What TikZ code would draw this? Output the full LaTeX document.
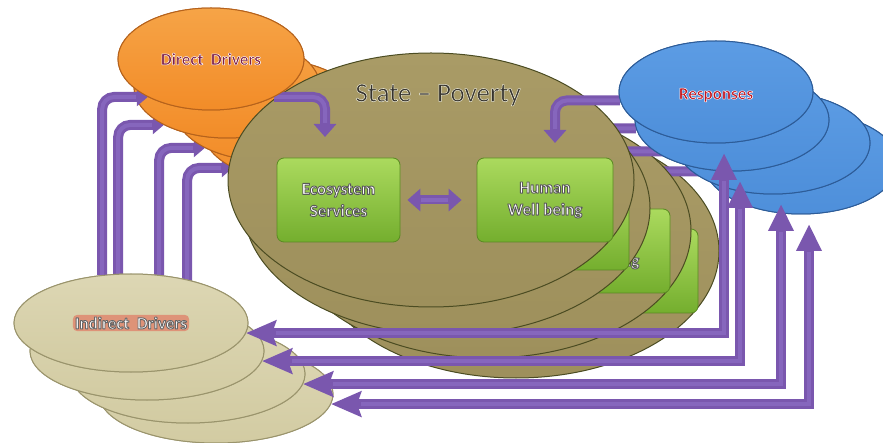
\documentclass[tikz,border=0pt]{standalone}
\usepackage{fontspec}
\setmainfont{Carlito}
\usetikzlibrary{shapes.geometric,arrows.meta}

\definecolor{drvorange}{HTML}{F28C28}
\definecolor{drvorangetop}{HTML}{F6A447}
\definecolor{drvorangedark}{HTML}{B5621C}
\definecolor{stateolive}{HTML}{9E905C}
\definecolor{stateolivetop}{HTML}{A99B66}
\definecolor{stateolivedark}{HTML}{4B4C22}
\definecolor{boxgreentop}{HTML}{ABDA5E}
\definecolor{boxgreenbot}{HTML}{74AE2E}
\definecolor{boxgreenedge}{HTML}{5A8A22}
\definecolor{respblue}{HTML}{4E8FDA}
\definecolor{respbluetop}{HTML}{5C9CE4}
\definecolor{respbluedark}{HTML}{2D5C98}
\definecolor{indbeige}{HTML}{D2CBA2}
\definecolor{indbeigetop}{HTML}{DDD7B4}
\definecolor{indbeigedark}{HTML}{9A946C}
\definecolor{linkpurple}{HTML}{7A57AE}
\definecolor{linkglint}{HTML}{8666BD}
\definecolor{textred}{rgb}{0.76,0.07,0.11}
\definecolor{textplum}{rgb}{0.50,0.12,0.27}
\definecolor{titlegrey}{rgb}{0.21,0.20,0.18}
\definecolor{labelglow}{HTML}{DE9378}

% letters filled in one colour and stroked round in another
% #1 fill as "r g b", #2 stroke as "r g b", #3 stroke width, #4 fill colour name, #5 words
\newcommand\outlined[5]{{\color{#4}%
  \special{pdf:literal 2 Tr #3 w 1 j #1 rg #2 RG}#5\special{pdf:literal 0 Tr}}}

\tikzset{
  oval/.style={ellipse, inner sep=0pt, line width=1pt},
  driveroval/.style={oval, minimum width=186pt, minimum height=102pt,
    top color=drvorangetop, bottom color=drvorange, draw=drvorangedark},
  stateoval/.style={oval, minimum width=406pt, minimum height=254pt,
    top color=stateolivetop, bottom color=stateolive, draw=stateolivedark},
  respoval/.style={oval, minimum width=194pt, minimum height=102pt,
    top color=respbluetop, bottom color=respblue, draw=respbluedark},
  indoval/.style={oval, minimum width=234pt, minimum height=98pt,
    top color=indbeigetop, bottom color=indbeige, draw=indbeigedark},
  svcbox/.style={rectangle, rounded corners=7pt, minimum height=84pt,
    top color=boxgreentop, bottom color=boxgreenbot, draw=boxgreenedge,
    line width=0.8pt},
  svctext/.style={align=center, font=\fontsize{17}{22}\selectfont\bfseries},
  link/.style={line width=10pt, draw=linkpurple, rounded corners=12pt},
  glint/.style={line width=4pt, draw=linkglint, rounded corners=12pt},
  smalltip/.tip={Triangle[width=18pt,length=11pt]},
  midtip/.tip={Triangle[width=22pt,length=13pt]},
  uptip/.tip={Triangle[width=24pt,length=27pt]},
  backtip/.tip={Stealth[width=25pt,length=30pt,inset=4pt]},
}

\newcommand\whiteword[1]{\outlined{1 1 1}{0.35 0.35 0.35}{0.9}{white}{#1}}
\newcommand\wellbeing{\whiteword{Human}\\\whiteword{Well being}}

\begin{document}
\begin{tikzpicture}[x=1pt,y=-1pt]
\useasboundingbox (0,0) rectangle (883,443);

% four copies of the whole scheme, stacked from the back to the front
\foreach \i/\dx/\dy in {4/85/71,3/57/51,2/16/28,1/0/0}{
\begin{scope}[shift={(\dx,\dy)}]
  % state of ecosystems and people
  \node[stateoval] (state\i) at (431,180) {};
  \node[svcbox, minimum width=123pt] (eco\i) at (338.5,200) {};
  \node[svcbox, minimum width=136pt] (hum\i) at (545,200) {};
  \ifnum\i=3
    \node[svctext] (humtext\i) at (hum\i) {\wellbeing};
  \fi

  \coordinate (dtip\i) at (325,137);
  \coordinate (rtip\i) at (555,143);
  \coordinate (rup\i) at (724,153);

  \node[driveroval] (dir\i) at (211,59) {};
  \node[respoval] (resp\i) at (716,92) {};
  \node[indoval] (ind\i) at (131,323) {};

  % links
  \draw[link, -smalltip] (ind\i.121) |- (dir\i.211);
  \draw[glint, shorten >=12pt] (ind\i.121) |- (dir\i.211);

  \draw[link, -midtip] (dir\i.329) -| (dtip\i);
  \draw[glint, shorten >=14pt] (dir\i.329) -| (dtip\i);

  \draw[link, -midtip] (resp\i.185) -| (rtip\i);
  \draw[glint, shorten >=14pt] (resp\i.185) -| (rtip\i);

  \draw[link, line width=9pt, midtip-midtip, shorten <=7pt, shorten >=15pt]
    (eco\i.east) -- (hum\i.west);
  \draw[glint, shorten <=21pt, shorten >=29pt] (eco\i.east) -- (hum\i.west);

  \draw[link, sharp corners, backtip-uptip] (ind\i.355) -| (rup\i);
  \draw[glint, sharp corners, shorten <=30pt, shorten >=28pt] (ind\i.355) -| (rup\i);

  % drivers and responses, on top of the ends of their links
  \node[driveroval] (dirfront\i) at (211,59) {};
  \node[respoval] (respfront\i) at (716,92) {};
  \node[indoval] (indfront\i) at (131,323) {};
\end{scope}
}

% labels of the front copy
\node[font=\fontsize{27}{30}\selectfont] (title) at (438,95)
  {\outlined{0.21 0.20 0.18}{0.93 0.92 0.84}{0.5}{titlegrey}{State – Poverty}};
\node[svctext] (ecotext) at (eco1) {\whiteword{Ecosystem}\\\whiteword{Services}};
\node[svctext] (humtext1) at (hum1) {\wellbeing};
\node[font=\fontsize{17}{20}\selectfont\bfseries] (dirtext) at (dirfront1)
  {\outlined{0.50 0.12 0.27}{1 1 1}{0.5}{textplum}{Direct\ \ Drivers}};
\node[font=\fontsize{17}{20}\selectfont\bfseries] (resptext) at ([yshift=-3pt]respfront1.center)
  {\outlined{0.76 0.07 0.11}{1 1 1}{0.5}{textred}{Responses}};
\node[fill=labelglow, rounded corners=4pt, inner sep=2pt,
      font=\fontsize{17}{20}\selectfont\bfseries] (indtext) at (indfront1)
  {\outlined{1 1 1}{0.4 0.4 0.4}{0.9}{white}{Indirect\ \ Drivers}};
\end{tikzpicture}
\end{document}
